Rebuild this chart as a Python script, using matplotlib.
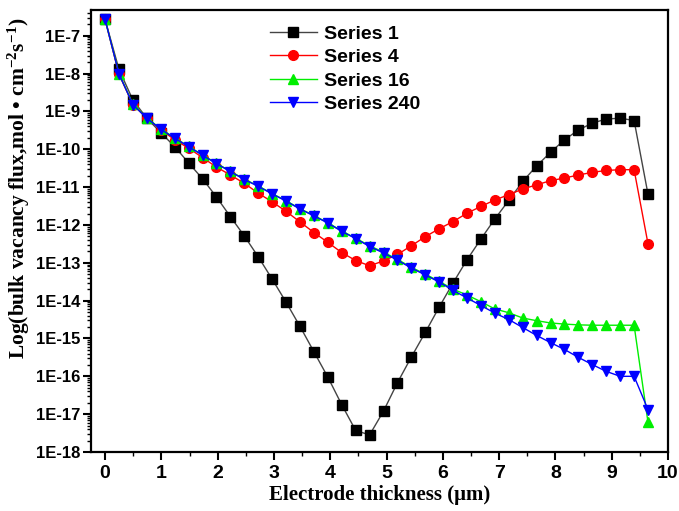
import matplotlib
matplotlib.use('Agg')
import matplotlib.pyplot as plt
import numpy as np
from matplotlib.ticker import FixedLocator, LogLocator, MultipleLocator, NullFormatter

WIDTH = 679
HEIGHT = 511
DPI = 100

# electrode positions (um), 40 evenly spaced nodes
thickness = np.linspace(0.0, 9.645, 40)

# log10 of bulk vacancy flux
series_1 = [-6.57, -7.89, -8.70, -9.18, -9.56, -9.93, -10.36, -10.78, -11.26, -11.78,
            -12.29, -12.84, -13.43, -14.04, -14.68, -15.35, -16.02, -16.75, -17.43, -17.55,
            -16.92, -16.17, -15.49, -14.84, -14.17, -13.53, -12.92, -12.37, -11.84, -11.35,
            -10.85, -10.44, -10.08, -9.75, -9.49, -9.31, -9.20, -9.18, -9.24, -11.19]
series_4 = [-6.57, -8.02, -8.82, -9.18, -9.48, -9.75, -9.97, -10.22, -10.47, -10.68,
            -10.90, -11.16, -11.39, -11.64, -11.92, -12.20, -12.46, -12.73, -12.94, -13.08,
            -12.95, -12.78, -12.55, -12.31, -12.10, -11.91, -11.69, -11.51, -11.34, -11.20,
            -11.05, -10.94, -10.83, -10.76, -10.68, -10.61, -10.56, -10.54, -10.54, -12.50]
series_16 = [-6.57, -8.00, -8.81, -9.17, -9.46, -9.70, -9.92, -10.15, -10.37, -10.58,
             -10.79, -10.97, -11.17, -11.36, -11.57, -11.75, -11.94, -12.16, -12.35, -12.55,
             -12.72, -12.91, -13.12, -13.30, -13.49, -13.70, -13.85, -14.03, -14.22, -14.32,
             -14.46, -14.53, -14.59, -14.62, -14.64, -14.65, -14.65, -14.65, -14.65, -17.22]
series_240 = [-6.57, -8.01, -8.82, -9.18, -9.47, -9.71, -9.93, -10.16, -10.38, -10.59,
              -10.80, -10.98, -11.18, -11.37, -11.58, -11.76, -11.95, -12.17, -12.36, -12.57,
              -12.74, -12.93, -13.14, -13.32, -13.51, -13.73, -13.93, -14.13, -14.33, -14.50,
              -14.71, -14.92, -15.11, -15.29, -15.50, -15.69, -15.87, -16.00, -16.00, -16.88]

labels = ['Series 1', 'Series 4', 'Series 16', 'Series 240']
colors = ['#000000', '#ff0000', '#00ee00', '#0000ff']
line_colors = ['#444444', '#ff0000', '#00ee00', '#0000ff']
markers = ['s', 'o', '^', 'v']

y_exponents = list(range(-18, -6))
y_ticklabels = ['1E%d' % e for e in y_exponents]
x_ticks = list(range(0, 11))

plt.rcParams['mathtext.fontset'] = 'custom'
plt.rcParams['mathtext.rm'] = 'Liberation Serif:bold'
plt.rcParams['mathtext.it'] = 'Liberation Serif:bold'
plt.rcParams['mathtext.bf'] = 'Liberation Serif:bold'


def main():
    fig = plt.figure(figsize=(WIDTH / DPI, HEIGHT / DPI), dpi=DPI)
    ax = fig.add_axes([91 / WIDTH, 1 - 452 / HEIGHT, 577 / WIDTH, 442 / HEIGHT])

    all_series = [series_1, series_4, series_16, series_240]
    for ys, lab, c, lc, m in zip(all_series, labels, colors, line_colors, markers):
        ax.plot(thickness, 10.0 ** np.array(ys), color=lc, lw=1.0,
                marker=m, markersize=7, markerfacecolor=c, markeredgecolor=c,
                label=lab)

    ax.set_yscale('log')
    ax.set_xlim(-0.25, 10)
    ax.set_ylim(1e-18, 10 ** -6.32)

    ax.yaxis.set_major_locator(FixedLocator([10.0 ** e for e in y_exponents]))
    ax.set_yticklabels(y_ticklabels, fontsize=12, fontweight='bold',
                       family='Liberation Sans')
    ax.yaxis.set_minor_locator(LogLocator(base=10, subs=np.arange(2, 10), numticks=50))
    ax.yaxis.set_minor_formatter(NullFormatter())

    ax.set_xticks(x_ticks)
    ax.set_xticklabels([str(t) for t in x_ticks], fontsize=14, fontweight='bold',
                       family='Liberation Sans')
    ax.xaxis.set_minor_locator(MultipleLocator(0.5))

    ax.tick_params(axis='both', which='major', direction='out', length=6, width=1.5)
    ax.tick_params(axis='both', which='minor', direction='out', length=3, width=1.0)
    ax.tick_params(axis='y', which='major', pad=2)
    ax.tick_params(top=False, right=False)
    for sp in ax.spines.values():
        sp.set_linewidth(1.6)

    ax.set_xlabel('Electrode thickness (\u03bcm)', fontsize=15, fontweight='bold',
                  family='Liberation Serif', labelpad=2)
    ax.set_ylabel('Log(bulk vacancy flux,mol \u2022 cm$^{-2}$s$^{-1}$)', fontsize=15.5,
                  fontweight='bold', family='Liberation Serif')
    ax.yaxis.set_label_coords(-0.102, 0.597)

    ax.legend(loc='upper left', bbox_to_anchor=(0.31, 0.966), frameon=False,
              borderaxespad=0, borderpad=0, handlelength=2.4, handletextpad=0.4,
              labelspacing=0.3, prop={'family': 'Liberation Sans', 'weight': 'bold',
                                      'size': 14})

    fig.savefig('out.png', dpi=DPI)


if __name__ == '__main__':
    main()
